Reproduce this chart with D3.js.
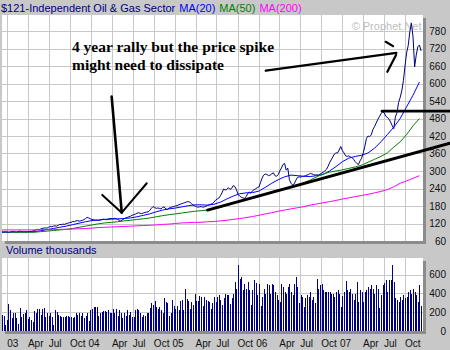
<!DOCTYPE html>
<html><head><meta charset="utf-8">
<script src="https://cdn.jsdelivr.net/npm/d3@7"></script>
<style>
html,body{margin:0;padding:0;background:#c8c8c8;}
svg{display:block;}
</style></head><body>
<svg id="chart" width="450" height="350"></svg>
<script>
// ---------- DATA ----------
const firstWeek = "2002-12-09";   // weekly observations
const price = [
91,90,92,91,89,90,92,93,91,90,
92,94,93,91,92,90,91,93,92,94,
96,98,100,99,101,103,104,105,104,107,
110,109,111,112,111,114,117,116,118,117,
120,121,123,124,127,126,129,130,128,129,
131,133,137,141,139,136,134,133,131,132,
130,132,133,135,134,133,135,137,137,136,
138,137,134,131,128,133,136,139,141,143,
145,148,150,152,155,157,155,154,156,158,
159,160,165,172,178,175,172,173,172,170,
175,177,170,168,173,175,177,178,180,181,
184,186,188,190,192,194,195,193,188,183,
180,178,176,177,178,176,177,179,182,184,
186,188,193,200,204,207,215,225,238,235,
237,243,237,240,250,247,236,220,214,210,
208,206,212,222,228,224,232,236,239,243,
245,260,276,286,290,288,284,286,290,294,
284,282,287,300,310,322,326,303,310,270,
258,252,256,268,278,280,279,281,282,284,
286,288,292,290,288,286,287,286,289,292,
296,300,305,315,328,338,348,358,362,362,
372,384,370,362,352,350,352,348,346,340,
332,326,322,335,344,362,385,412,420,418,
424,442,452,464,476,486,496,503,500,488,
484,478,468,456,445,485,500,535,552,575,
610,660,705,730,778,807,760,657,698,726,
732,712];
const volume = [
169,159,63,116,286,222,134,187,187,134,
70,240,152,180,187,222,123,145,116,99,
212,187,233,229,169,233,240,145,194,159,
187,145,63,222,204,169,159,152,145,145,
159,159,152,145,134,152,194,169,187,159,
187,141,159,194,109,222,229,257,257,250,
159,187,204,215,215,204,222,194,187,229,
187,233,159,222,187,134,194,159,222,169,
204,152,145,222,233,222,194,145,169,159,
194,187,240,300,275,321,257,229,250,222,
187,346,310,300,159,194,328,264,233,264,
222,321,328,222,451,335,321,229,303,275,
391,321,317,370,363,264,363,328,321,310,
229,293,363,310,363,381,328,275,346,398,
381,381,286,346,398,522,451,698,557,575,
434,504,451,522,434,275,434,540,511,381,
504,264,363,441,398,504,487,398,504,487,
416,381,328,310,504,469,416,398,469,504,
416,381,504,575,469,293,381,363,257,346,
381,363,416,328,363,293,547,451,487,504,
434,416,416,409,416,398,398,363,416,434,
398,257,370,416,532,434,416,451,398,328,
398,522,310,434,416,310,416,434,469,451,
487,451,398,487,451,240,381,487,511,540,
416,540,545,698,522,346,328,310,363,328,
381,346,363,416,434,398,451,416,381,310,
487,264];
const maStep = 4;   // moving averages read every 4th week
const ma20 = [
90,90,91,91,92,92,95,99,103,107,
111,116,121,126,130,132,134,135,136,137,
139,143,148,153,160,166,170,173,177,181,
184,184,183,186,193,204,214,222,225,226,
231,244,258,270,280,286,284,282,281,284,
288,300,315,332,344,350,354,362,378,400,
425,450,480,520,560,605];
const ma50 = [
92,91,90,90,90,90,92,94,96,98,
100,103,107,111,115,119,122,124,126,129,
131,134,136,139,143,147,150,153,156,159,
162,164,166,170,175,182,189,195,201,207,
213,221,229,235,240,246,252,260,269,280,
290,296,300,304,309,314,320,330,340,350,
362,382,400,425,455,480];
const ma200 = [
98,98,98,98,98,98,99,99,99,100,
100,101,102,103,104,106,107,108,109,110,
111,112,113,114,115,117,118,120,122,123,
124,124,126,127,129,131,134,137,140,144,
148,153,157,162,166,170,174,178,183,187,
191,195,199,204,208,212,216,220,225,230,
236,246,258,266,275,284];
const priceTicks = [60,120,180,240,300,360,420,480,540,600,660,720,780];
const volumeTicks = [0,200,400,600];
const xTickLabels = ["03","Apr","Jul","Oct","04","Apr","Jul","Oct","05","Apr","Jul","Oct",
                     "06","Apr","Jul","Oct","07","Apr","Jul","Oct"];
const titleParts = ["$121-Independent Oil & Gas Sector","MA(20)","MA(50)","MA(200)"];
const noteLines = ["4 year rally but the price spike","might need to dissipate"];
const noteAnchor = [["2003-10-10",709],["2003-10-10",646]];
// hand-drawn annotation strokes in data units [date, price]
const arrowShaft   = [["2004-03-31",555],["2004-05-14",157]];
const arrowHead    = [["2004-02-19",218],["2004-05-14",157],["2004-08-31",258]];
const topLine      = [["2006-02-01",644],["2007-08-24",705]];
const topHeadUpper = [["2007-07-09",743],["2007-08-10",728]];
const topHeadLower = [["2007-08-23",698],["2007-07-16",640]];
const trendLine    = [["2005-05-23",166],["2008-04-14",395]];
const resistance   = [["2007-06-23",505],["2008-04-14",505]];

// ---------- SETUP ----------
const parse = d3.timeParse("%Y-%m-%d");
const weekDates = d3.range(price.length).map(i => d3.timeDay.offset(parse(firstWeek), 7*i));
const maDates = d3.range(ma20.length).map(k => weekDates[k*maStep]);
const tickDates = d3.timeMonth.every(3).range(parse("2003-01-01"), parse("2007-10-02"));

const P = {l:2, r:423, t:15, b:241};
const V = {l:2, r:423, t:258, b:331};
const x = d3.scaleTime().domain([parse("2003-01-01"), parse("2007-10-01")]).range([7.3, 405]);
const y = d3.scaleLinear().domain([60, 780]).range([241, 31]);
const yV = d3.scaleLinear().domain([0, 600]).range([331, 274.5]);

const svg = d3.select("#chart");
const SANS = "'Liberation Sans', Arial, sans-serif";
svg.append("rect").attr("width",450).attr("height",350).attr("fill","#c8c8c8");

const defs = svg.append("defs");
defs.append("clipPath").attr("id","cp").append("rect")
  .attr("x",P.l).attr("y",P.t).attr("width",P.r-P.l).attr("height",P.b-P.t);
defs.append("clipPath").attr("id","cv").append("rect")
  .attr("x",V.l).attr("y",V.t).attr("width",V.r-V.l).attr("height",V.b-V.t);

// panels with shadow
[P,V].forEach(p => {
  svg.append("rect").attr("x",p.l+3).attr("y",p.t+3).attr("width",p.r-p.l).attr("height",p.b-p.t).attr("fill","#8c8c8c");
  svg.append("rect").attr("x",p.l).attr("y",p.t).attr("width",p.r-p.l).attr("height",p.b-p.t).attr("fill","#fff");
});

// grid
const grid = svg.append("g").attr("stroke","#c8c8c8").attr("stroke-width",1).attr("shape-rendering","crispEdges");
[P,V].forEach(p => {
  grid.selectAll(null).data(tickDates).join("line")
    .attr("x1",d=>Math.round(x(d))+0.5).attr("x2",d=>Math.round(x(d))+0.5)
    .attr("y1",p.t).attr("y2",p.b);
});
grid.selectAll(null).data(priceTicks.filter(v=>y(v)<P.b-1)).join("line")
  .attr("x1",P.l).attr("x2",P.r).attr("y1",d=>Math.round(y(d))+0.5).attr("y2",d=>Math.round(y(d))+0.5);
grid.selectAll(null).data(volumeTicks.filter(v=>yV(v)<V.b-1)).join("line")
  .attr("x1",V.l).attr("x2",V.r).attr("y1",d=>Math.round(yV(d))+0.5).attr("y2",d=>Math.round(yV(d))+0.5);

// watermark
svg.append("text").attr("x",421.5).attr("y",29.5).attr("text-anchor","end")
  .attr("font-family",SANS).attr("font-size","11px").attr("fill","#bdbdbd").text("\u00a9 Prophet.Net");

// lines
const plot = svg.append("g").attr("clip-path","url(#cp)");
const lineW = d3.line().x(d=>x(d[0])).y(d=>y(d[1]));
function series(dates, vals, color){
  plot.append("path").datum(dates.map((d,i)=>[d,vals[i]]))
    .attr("d",lineW).attr("fill","none").attr("stroke",color).attr("stroke-width",1);
}
series(weekDates, price, "#000080");
series(maDates, ma20, "#0000ff");
series(maDates, ma50, "#008000");
series(maDates, ma200, "#ff00ff");

// volume bars
svg.append("g").attr("clip-path","url(#cv)").attr("shape-rendering","crispEdges")
  .selectAll("rect").data(volume).join("rect")
  .attr("x",(d,i)=>Math.round(x(weekDates[i])))
  .attr("width",1)
  .attr("y",d=>yV(d)).attr("height",d=>yV(0)-yV(d))
  .attr("fill","#000080");

// axes
const ax = svg.append("g").attr("transform","translate(0,346.5)")
  .call(d3.axisBottom(x).tickValues(tickDates).tickFormat((d,i)=>xTickLabels[i]).tickSize(0).tickPadding(0));
ax.select(".domain").remove();
ax.selectAll("text").attr("y",0).attr("dy",0).attr("text-anchor","start")
  .attr("x",(d,i)=> /^\d/.test(xTickLabels[i]) ? Math.max(-3, 6.7 - x(d)) : -0.5)
  .attr("font-family",SANS).attr("font-size","10px").attr("fill","#111");

const ay = svg.append("g").attr("transform","translate(446,0)")
  .call(d3.axisRight(y).tickValues(priceTicks).tickSize(0).tickPadding(0));
ay.select(".domain").remove();
ay.selectAll("text").attr("x",0).attr("text-anchor","end")
  .attr("font-family",SANS).attr("font-size","10px").attr("fill","#111");

const av = svg.append("g").attr("transform","translate(446,0)")
  .call(d3.axisRight(yV).tickValues(volumeTicks).tickSize(0).tickPadding(0));
av.select(".domain").remove();
av.selectAll("text").attr("x",0).attr("text-anchor","end")
  .attr("font-family",SANS).attr("font-size","10px").attr("fill","#111");

// title
const title = svg.append("text").attr("x",1).attr("y",12).attr("font-family",SANS).attr("font-size","11px");
const tColors = ["#000080","#0000ff","#008000","#ff00ff"];
titleParts.forEach((t,i)=>{
  title.append("tspan").attr("dx", i===0?0:4).attr("fill",tColors[i]).text(t);
});

svg.append("text").attr("x",6).attr("y",254).attr("font-family",SANS).attr("font-size","11px")
  .attr("fill","#000080").text("Volume thousands");

// annotations
const ann = svg.append("g").attr("fill","none").attr("stroke","#000").attr("stroke-linecap","round").attr("stroke-linejoin","round");
const lineA = d3.line().x(d=>x(parse(d[0]))).y(d=>y(d[1]));
[[arrowShaft,2.6],[arrowHead,2],[topLine,2.4],[topHeadUpper,2.2],[topHeadLower,2.2],[trendLine,3],[resistance,2.7]]
  .forEach(([pts,w]) => ann.append("path").attr("d",lineA(pts)).attr("stroke-width",w));

svg.selectAll(null).data(noteLines).join("text")
  .attr("x",(d,i)=>x(parse(noteAnchor[i][0]))).attr("y",(d,i)=>y(noteAnchor[i][1]))
  .attr("font-family","'Liberation Serif','Times New Roman',serif").attr("font-weight","bold")
  .attr("font-size","15.5px").attr("fill","#000").text(d=>d);
</script>
</body></html>
